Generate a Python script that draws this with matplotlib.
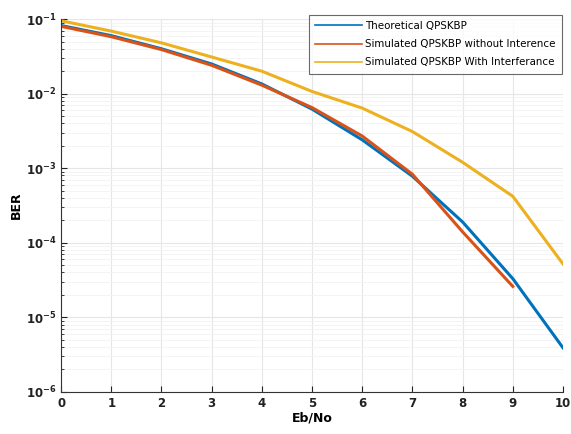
import matplotlib
matplotlib.use("Agg")
import matplotlib.pyplot as plt
import numpy as np

ebno = [0, 1, 2, 3, 4, 5, 6, 7, 8, 9, 10]
ebno_sim = [0, 1, 2, 3, 4, 5, 6, 7, 8, 9]
ber_theory = [0.082, 0.060, 0.040, 0.025, 0.0135, 0.0062, 0.0024, 7.8e-4, 1.9e-4, 3.3e-5, 3.9e-6]
ber_no_intf = [0.080, 0.058, 0.039, 0.024, 0.013, 0.0065, 0.0027, 8.3e-4, 1.4e-4, 2.6e-5]
ber_intf = [0.095, 0.069, 0.048, 0.031, 0.020, 0.0107, 0.0064, 0.0031, 1.2e-3, 4.2e-4, 5.2e-5]
labels = ["Theoretical QPSKBP", "Simulated QPSKBP without Interence",
          "Simulated QPSKBP With Interferance"]
colors = ["#0072BD", "#D95319", "#EDB120"]

fig = plt.figure(figsize=(5.71, 4.34), dpi=100)
ax = fig.add_axes([0.107, 0.097, 0.879, 0.859])
ax.semilogy(ebno, ber_theory, color=colors[0], lw=2.2, label=labels[0])
ax.semilogy(ebno_sim, ber_no_intf, color=colors[1], lw=2.2, label=labels[1])
ax.semilogy(ebno, ber_intf, color=colors[2], lw=2.2, label=labels[2])

ax.set_xlim(0, 10)
ax.set_ylim(1e-6, 1e-1)
ax.set_xticks(range(11))
ax.grid(True, which="major", color="#e6e6e6", lw=0.8)
ax.grid(True, which="minor", axis="y", color="#f2f2f2", lw=0.6)
ax.set_axisbelow(True)
for s in ["top", "right"]:
    ax.spines[s].set_visible(False)
for s in ["left", "bottom"]:
    ax.spines[s].set_color("#333333")
ax.tick_params(axis="both", which="both", direction="in", labelsize=8.5, colors="#222222")
ax.tick_params(which="major", length=4)
ax.tick_params(which="minor", length=2)
for lbl in ax.get_xticklabels() + ax.get_yticklabels():
    lbl.set_fontweight("bold")
ax.set_xlabel("Eb/No", fontsize=9, fontweight="bold", labelpad=1)
ax.set_ylabel("BER", fontsize=9, fontweight="bold", labelpad=2)
leg = ax.legend(loc="upper right", bbox_to_anchor=(1.004, 1.02), fontsize=7.4,
                frameon=True, fancybox=False, edgecolor="#444444",
                handlelength=4.6, handletextpad=0.3, borderpad=0.6, labelspacing=0.8,
                borderaxespad=0.3)
leg.get_frame().set_linewidth(0.8)
for line in leg.get_lines():
    line.set_linewidth(1.2)
fig.savefig("out.png", dpi=100)
